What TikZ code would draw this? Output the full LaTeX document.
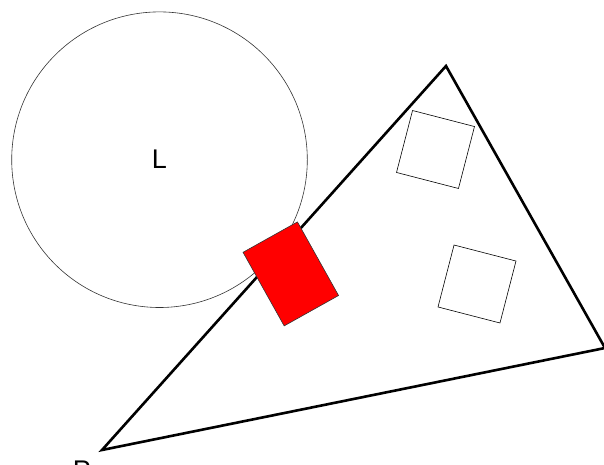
\documentclass[tikz,border=0pt]{standalone}
\usepackage{fontspec}
\setmainfont{Liberation Sans}
\usepackage{tikz}
\usetikzlibrary{calc, positioning}

\tikzset{
    thinbox/.style={draw=black, line width=0.6pt, rectangle, inner sep=0pt, minimum size=64pt, rotate=-14.5},
    bigtext/.style={font=\fontsize{27}{27}\selectfont}
}

\begin{document}
\begin{tikzpicture}[x=1pt, y=-1pt]
    \useasboundingbox (0,0) rectangle (604,465);

    % Circle L
    \node[draw=black!80, line width=0.6pt, circle, inner sep=0pt, minimum size=295.6pt, bigtext] (L) at (159.5,159.7) {L};

    % Triangle corners
    \coordinate (P) at (102,450);
    \coordinate (T) at (446,66);
    \coordinate (R) at (605,348);
    \draw[line width=2.6pt, line join=miter] (P) -- (T) -- (R) -- cycle;
    \node[bigtext, anchor=base] (Plabel) at (82,479.5) {P};

    % Boxes inside the triangle
    \node[thinbox] (boxA) at (435.5,149.5) {};
    \node[thinbox] (boxB) at (477,284) {};

    % Red box on the edge
    \node[draw=black!80, line width=0.6pt, fill=red, rectangle, inner sep=0pt,
          minimum width=62.3pt, minimum height=84.3pt, rotate=29.2] (redbox) at (290.8,273.9) {};
\end{tikzpicture}
\end{document}
